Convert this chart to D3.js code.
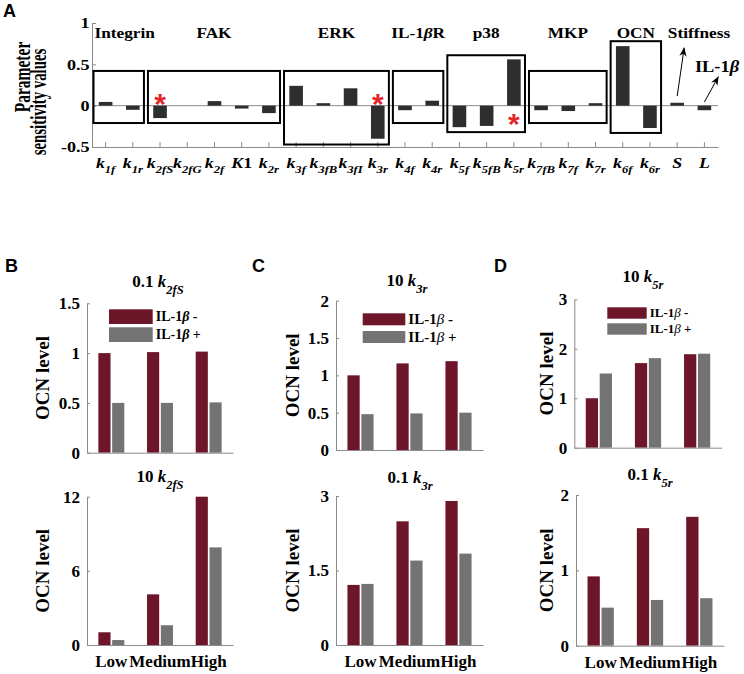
<!DOCTYPE html>
<html><head><meta charset="utf-8">
<script src="https://cdn.jsdelivr.net/npm/d3@7"></script>
<style>
body{margin:0;background:#fff}
svg text{font-family:"Liberation Serif","Times New Roman",serif;font-weight:bold;fill:#000}
</style>
</head><body>
<svg id="c" width="744" height="674"></svg>
<script>
// ---------- Panel A data ----------
const sensParams = ["k_1f","k_1r","k_2fS","k_2fG","k_2f","K1","k_2r","k_3f","k_3fB","k_3fI","k_3r","k_4f","k_4r","k_5f","k_5fB","k_5r","k_7fB","k_7f","k_7r","k_6f","k_6r","S","L"];
const sensValues = [0.045,-0.05,-0.15,0,0.055,-0.035,-0.09,0.24,0.03,0.21,-0.4,-0.055,0.06,-0.26,-0.245,0.56,-0.055,-0.065,0.03,0.72,-0.27,0.035,-0.055];
const sensTicks = [-0.5,0,0.5,1];
const groupNames = ["Integrin","FAK","ERK","IL-1βR","p38","MKP","OCN"];
const groupFirst = ["k_1f","k_2fS","k_3f","k_4f","k_5f","k_7fB","k_6f"];
const groupLast  = ["k_1r","k_2r","k_3r","k_4r","k_5r","k_7r","k_6r"];
const groupTop    = [0.42,0.42,0.42,0.42,0.61,0.42,0.78];
const groupBottom = [-0.21,-0.21,-0.47,-0.21,-0.32,-0.21,-0.33];
const starParams = ["k_2fS","k_3r","k_5r"];
const starValues = [0.105,0.11,-0.14];

// ---------- Panels B-D data ----------
const levels = ["Low","Medium","High"];
const seriesNames = ["IL-1β -","IL-1β +"];
const b1Minus = [1.0,1.01,1.015],  b1Plus = [0.5,0.5,0.505],  b1Ticks = [0,0.5,1,1.5];
const b2Minus = [1.03,4.1,12.0],   b2Plus = [0.4,1.6,7.9],    b2Ticks = [0,6,12];
const c1Minus = [1.0,1.16,1.19],   c1Plus = [0.48,0.49,0.5],  c1Ticks = [0,0.5,1,1.5,2];
const c2Minus = [1.21,2.49,2.9],   c2Plus = [1.23,1.7,1.84],  c2Ticks = [0,1.5,3];
const d1Minus = [1.0,1.71,1.89],   d1Plus = [1.5,1.81,1.9],   d1Ticks = [0,1,2,3];
const d2Minus = [0.92,1.56,1.71],  d2Plus = [0.505,0.607,0.63], d2Ticks = [0,1,2];

const RED = "#6e1629", GRAY = "#737373", AX = "#8a8a8a";
const svg = d3.select("#c");
const defs = svg.append("defs");
defs.append("marker").attr("id","arr").attr("viewBox","0 0 10 8").attr("refX",9.5).attr("refY",4)
  .attr("markerWidth",9).attr("markerHeight",8).attr("markerUnits","userSpaceOnUse").attr("orient","auto")
  .append("path").attr("d","M0,0L10,4L0,8L3,4Z").attr("fill","#000");

// helpers
function stext(g, x, y, size, sx, anchor){
  return g.append("text").attr("transform",`translate(${x},${y}) scale(${sx},1)`)
    .attr("font-size",size).attr("text-anchor",anchor||"middle");
}
function fillRich(t, str, subSize, subDy){
  const m = str.match(/^(.*?)([kK])_(\w+)$/);
  if (m){
    if (m[1]) t.append("tspan").text(m[1]);
    t.append("tspan").attr("font-style","italic").text(m[2]);
    t.append("tspan").attr("font-style","italic").attr("font-size",subSize).attr("dy",subDy).text(m[3]);
  } else {
    for (const ch of str) t.append("tspan").attr("font-style",/[A-Za-z]/.test(ch)?"italic":"normal").text(ch);
  }
}
function fillBeta(t, str, betaBold){
  const parts = str.split("β");
  parts.forEach((p,i)=>{
    if (p) t.append("tspan").text(p);
    if (i < parts.length-1) t.append("tspan").attr("font-style","italic")
      .attr("font-weight", betaBold ? "bold" : "normal").text("β");
  });
}

// ---------- Panel A ----------
const A = {x0:92, x1:718, yTop:23, yBot:147};
const gA = svg.append("g");
const xA = d3.scaleBand().domain(sensParams).range([A.x0,A.x1]).paddingInner(0.5).paddingOuter(0.25);
const yA = d3.scaleLinear().domain([-0.5,1]).range([A.yBot,A.yTop]);
const step = xA.step(), bw = xA.bandwidth();
const cx = d => xA(d) + bw/2;

gA.append("line").attr("x1",A.x0).attr("x2",A.x1).attr("y1",yA(0)).attr("y2",yA(0))
  .attr("stroke",AX).attr("stroke-width",1);

gA.selectAll("rect.bar").data(sensParams).join("rect").attr("class","bar")
  .attr("x",d=>xA(d)).attr("width",bw)
  .attr("y",(d,i)=>yA(Math.max(0,sensValues[i])))
  .attr("height",(d,i)=>Math.abs(yA(sensValues[i])-yA(0)))
  .attr("fill","#2e2e2e");

// axes
const yAxA = gA.append("g").attr("transform",`translate(${A.x0},0)`)
  .call(d3.axisLeft(yA).tickValues(sensTicks).tickSize(-4).tickSizeOuter(0).tickPadding(2).tickFormat(d=>String(d)));
const xAxA = gA.append("g").attr("transform",`translate(0,${A.yBot})`)
  .call(d3.axisBottom(xA).tickSize(-5).tickSizeOuter(0).tickFormat(""));
[yAxA,xAxA].forEach(a=>{ a.select(".domain").attr("stroke",AX); a.selectAll(".tick line").attr("stroke",AX); });
yAxA.selectAll("text").attr("font-size",15.5).attr("font-family",null).attr("fill","#000")
  .attr("transform","scale(1.17,1)");

// boxes
groupNames.forEach((name,i)=>{
  const l = cx(groupFirst[i]) - step/2 + 1.5, r = cx(groupLast[i]) + step/2 - 2.5;
  const t = yA(groupTop[i]), b = yA(groupBottom[i]);
  gA.append("rect").attr("x",l).attr("y",t).attr("width",r-l).attr("height",b-t)
    .attr("fill","none").attr("stroke","#000").attr("stroke-width",2);
  const lab = i===0 ? stext(gA, l+1, 38, 15, 1.15, "start") : stext(gA, (l+r)/2, 38, 15, 1.15, "middle");
  fillBeta(lab, name, true);
});
// stiffness / IL-1b annotations
stext(gA, 699, 38, 15, 1.15, "middle").text("Stiffness");
fillBeta(stext(gA, 717, 72, 16, 1.15, "middle"), "IL-1β", true);
gA.append("line").attr("x1",cx("S")).attr("y1",yA(0.115)).attr("x2",cx("S")+7).attr("y2",yA(0.70))
  .attr("stroke","#000").attr("stroke-width",1).attr("marker-end","url(#arr)");
gA.append("line").attr("x1",cx("L")).attr("y1",yA(0.045)).attr("x2",cx("L")+14).attr("y2",yA(0.35))
  .attr("stroke","#000").attr("stroke-width",1).attr("marker-end","url(#arr)");

// asterisks
starParams.forEach((p,i)=>{
  gA.append("text").attr("x",cx(p)).attr("y",yA(starValues[i]) + 0.57*30).attr("text-anchor","middle")
    .attr("font-size",30).style("font-family","'Liberation Sans',Arial,sans-serif").style("fill","#e3262b").text("*");
});

// x labels
sensParams.forEach(p=>{
  const t = stext(gA, cx(p), 168, 15.5, 1.15, "middle");
  fillRich(t, p, 11, 5);
});

// y label
svg.append("text").attr("transform","translate(30,77) scale(1.55,1) rotate(-90)")
  .attr("text-anchor","middle").attr("font-size",15.5).text("Parameter");
svg.append("text").attr("transform","translate(46,102) scale(1.5,1) rotate(-90)")
  .attr("text-anchor","middle").attr("font-size",14.8).text("sensitivity values");

svg.append("text").attr("x",3).attr("y",17).attr("font-size",18)
  .style("font-family","'Liberation Sans',Arial,sans-serif").text("A");

// ---------- Panels B-D ----------
const panels = [
  {x0:87, x1:233, yTop:303.3, y0:452.7, ticks:b1Ticks, minus:b1Minus, plus:b1Plus, title:"0.1 k_2fS", tx:158, ty:287,
   leg:{x:109, y:309.3, w:43.7, h:14.7, gap:3.3, size:14, betaBold:true}, ylx:42.5, xl:false},
  {x0:87, x1:233, yTop:496.7, y0:645, ticks:b2Ticks, minus:b2Minus, plus:b2Plus, title:"10 k_2fS", tx:160, ty:482, ylx:42.5, xl:true},
  {x0:336, x1:483, yTop:300.7, y0:450, ticks:c1Ticks, minus:c1Minus, plus:c1Plus, title:"10 k_3r", tx:407, ty:286,
   leg:{x:362.7, y:313.3, w:42.6, h:12, gap:5.7, size:15, betaBold:false}, ylx:292.5, xl:false},
  {x0:336, x1:483, yTop:496, y0:645, ticks:c2Ticks, minus:c2Minus, plus:c2Plus, title:"0.1 k_3r", tx:410, ty:483, ylx:292.5, xl:true},
  {x0:574.3, x1:721.7, yTop:299.3, y0:447.7, ticks:d1Ticks, minus:d1Minus, plus:d1Plus, title:"10 k_5r", tx:643, ty:282,
   leg:{x:607.3, y:307.3, w:39.4, h:11.4, gap:4.6, size:13, betaBold:false}, ylx:546.5, xl:false},
  {x0:576, x1:724, yTop:495, y0:645.7, ticks:d2Ticks, minus:d2Minus, plus:d2Plus, title:"0.1 k_5r", tx:650, ty:480, ylx:546.5, xl:true},
];
const colors = [RED, GRAY];

panels.forEach(p=>{
  const g = svg.append("g");
  const x = d3.scaleBand().domain(levels).range([p.x0,p.x1]).paddingInner(0.467).paddingOuter(0.2335);
  const xs = d3.scaleBand().domain(seriesNames).range([0,x.bandwidth()]).paddingInner(0.12);
  const y = d3.scaleLinear().domain([0,d3.max(p.ticks)]).range([p.y0,p.yTop]);
  const vals = [p.minus, p.plus];
  seriesNames.forEach((s,si)=>{
    g.selectAll(null).data(levels).join("rect")
      .attr("x",d=>x(d)+xs(s)).attr("width",xs.bandwidth())
      .attr("y",(d,i)=>y(vals[si][i])).attr("height",(d,i)=>y(0)-y(vals[si][i]))
      .attr("fill",colors[si]);
  });
  const ya = g.append("g").attr("transform",`translate(${p.x0},0)`)
    .call(d3.axisLeft(y).tickValues(p.ticks).tickSize(-3).tickSizeOuter(0).tickPadding(7).tickFormat(d=>String(d)));
  const xa = g.append("g").attr("transform",`translate(0,${p.y0})`)
    .call(d3.axisBottom(x).tickSize(0).tickSizeOuter(0).tickPadding(10).tickFormat(p.xl ? (d=>d) : ""));
  [ya,xa].forEach(a=>{ a.select(".domain").attr("stroke",AX); a.selectAll(".tick line").attr("stroke",AX); });
  ya.selectAll("text").attr("font-size",17).attr("font-family",null).attr("fill","#000");
  xa.selectAll("text").attr("font-size",17).attr("font-family",null).attr("fill","#000");

  fillRich(g.append("text").attr("x",p.tx).attr("y",p.ty).attr("text-anchor","middle").attr("font-size",17), p.title, 12.5, 7);

  g.append("text").attr("transform",`translate(${p.ylx},${(p.y0+p.yTop)/2}) rotate(-90)`)
    .attr("text-anchor","middle").attr("dy","0.35em").attr("font-size",19).text("OCN level");

  if (p.leg){
    const L = p.leg;
    seriesNames.forEach((s,si)=>{
      const yy = L.y + si*(L.h+L.gap);
      g.append("rect").attr("x",L.x).attr("y",yy).attr("width",L.w).attr("height",L.h).attr("fill",colors[si]);
      const t = g.append("text").attr("x",L.x+L.w+3).attr("y",yy+L.h/2+L.size*0.34).attr("font-size",L.size);
      fillBeta(t, s, L.betaBold);
    });
  }
});

// panel letters
[["B",5],["C",252],["D",494]].forEach(([l,xx])=>{
  svg.append("text").attr("x",xx).attr("y",272).attr("font-size",18)
    .style("font-family","'Liberation Sans',Arial,sans-serif").text(l);
});
</script>
</body></html>
